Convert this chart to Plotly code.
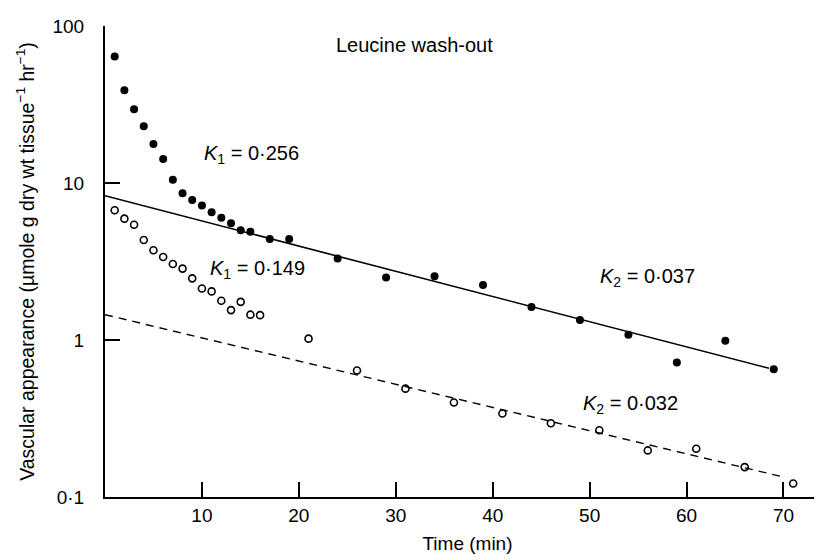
import plotly.graph_objects as go

# Filled circles (first wash-out series)
filled_t = [1, 2, 3, 4, 5, 6, 7, 8, 9, 10, 11, 12, 13, 14, 15, 17, 19,
            24, 29, 34, 39, 44, 49, 54, 59, 64, 69]
filled_v = [64.0, 39.0, 29.5, 23.0, 17.7, 14.2, 10.5, 8.6, 7.8, 7.2, 6.5, 6.0,
            5.55, 5.0, 4.9, 4.4, 4.4, 3.3, 2.5, 2.55, 2.24, 1.62, 1.34, 1.08,
            0.72, 0.99, 0.65]

# Open circles (second wash-out series)
open_t = [1, 2, 3, 4, 5, 6, 7, 8, 9, 10, 11, 12, 13, 14, 15, 16,
          21, 26, 31, 36, 41, 46, 51, 56, 61, 66, 71]
open_v = [6.7, 5.93, 5.42, 4.33, 3.73, 3.38, 3.05, 2.85, 2.47, 2.13, 2.04, 1.78,
          1.55, 1.75, 1.45, 1.44, 1.02, 0.64, 0.49, 0.40, 0.34, 0.295, 0.266,
          0.198, 0.203, 0.155, 0.122]

# Fitted slow components
solid_t = [0, 68.5]
solid_v = [8.3, 0.66]
dashed_t = [0, 70]
dashed_v = [1.45, 0.134]

x_ticks = [10, 20, 30, 40, 50, 60, 70]
y_ticks = [0.1, 1, 10, 100]
y_ticktext = ["0·1", "1", "10", "100"]

FONT = "Liberation Sans, Arial, Helvetica, sans-serif"

fig = go.Figure()
fig.add_trace(go.Scatter(x=solid_t, y=solid_v, mode="lines",
                         line=dict(color="black", width=1.6), hoverinfo="skip"))
fig.add_trace(go.Scatter(x=dashed_t, y=dashed_v, mode="lines",
                         line=dict(color="black", width=1.4, dash="8px,6px"), hoverinfo="skip"))
fig.add_trace(go.Scatter(x=filled_t, y=filled_v, mode="markers",
                         marker=dict(symbol="circle", size=8, color="black",
                                     line=dict(width=0))))
fig.add_trace(go.Scatter(x=open_t, y=open_v, mode="markers",
                         marker=dict(symbol="circle-open", size=7, color="black",
                                     line=dict(width=1.6))))

W, H = 822, 560
ML, MR, MT, MB = 97, 0, 18, 71
PW, PH = W - ML - MR, H - MT - MB


def px(xp):
    return (xp - ML) / PW


def py(yp):
    return (H - MB - yp) / PH


ann_font = dict(family=FONT, size=20, color="black")
annotations = [
    dict(text="Leucine wash-out", x=px(406), y=py(37), font=ann_font),
    dict(text="<i>K</i><sub>1</sub> = 0·256", x=px(243), y=py(146), font=ann_font),
    dict(text="<i>K</i><sub>1</sub> = 0·149", x=px(249), y=py(261), font=ann_font),
    dict(text="<i>K</i><sub>2</sub> = 0·037", x=px(639), y=py(269), font=ann_font),
    dict(text="<i>K</i><sub>2</sub> = 0·032", x=px(622), y=py(396), font=ann_font),
]
for a in annotations:
    a.update(xref="paper", yref="paper", showarrow=False, xanchor="center", yanchor="middle")

fig.update_layout(
    width=W, height=H,
    margin=dict(l=ML, r=MR, t=MT, b=MB),
    paper_bgcolor="white", plot_bgcolor="white",
    showlegend=False,
    annotations=annotations,
    font=dict(family=FONT, color="black"),
)
fig.update_xaxes(
    range=[0, 74.8], showgrid=False, zeroline=False,
    showline=True, linecolor="black", linewidth=2,
    ticks="inside", ticklen=15, tickwidth=2, tickcolor="black",
    tickvals=x_ticks,
    tickfont=dict(family=FONT, size=19),
    ticklabelstandoff=0,
    title=dict(text="Time (min)", standoff=12, font=dict(family=FONT, size=19)),
)
fig.update_yaxes(
    type="log", range=[-1, 2], showgrid=False, zeroline=False,
    showline=True, linecolor="black", linewidth=2,
    ticks="inside", ticklen=15, tickwidth=2, tickcolor="black",
    tickvals=y_ticks, ticktext=y_ticktext,
    tickfont=dict(family=FONT, size=19),
    ticklabelstandoff=15,
    title=dict(text="Vascular appearance (µmole g dry wt tissue<sup>−1</sup> hr<sup>−1</sup>)",
               standoff=13, font=dict(family=FONT, size=19.5)),
)

fig.write_html("out.html")
